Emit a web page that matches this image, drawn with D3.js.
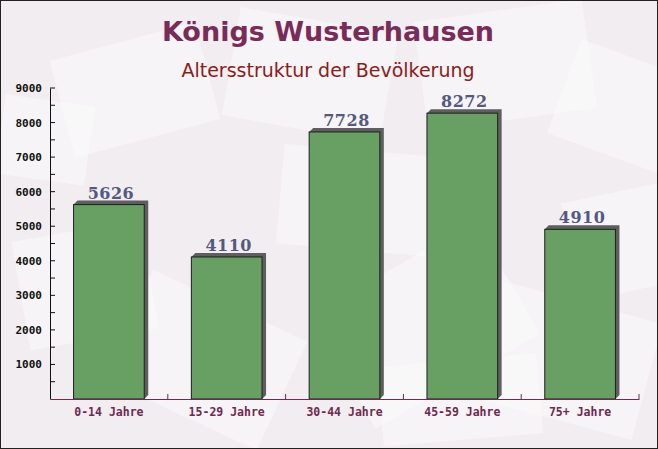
<!DOCTYPE html>
<html><head><meta charset="utf-8">
<script src="https://cdn.jsdelivr.net/npm/d3@7"></script>
<style>body{margin:0;padding:0;}svg{display:block;}</style>
</head><body>
<svg id="c" width="658" height="449"></svg>
<script>
const categories = ["0-14 Jahre","15-29 Jahre","30-44 Jahre","45-59 Jahre","75+ Jahre"];
const values = [5626, 4110, 7728, 8272, 4910];
const yTicks = [1000,2000,3000,4000,5000,6000,7000,8000,9000];
const title = "Königs Wusterhausen";
const subtitle = "Altersstruktur der Bevölkerung";

const svg = d3.select("#c");
const W = 658, H = 449;
const m = {left:50, right:19, top:88, bottom:50};

svg.append("rect").attr("width",W).attr("height",H).attr("fill","#f1edf0");
// decorative background envelopes
const deco = [
  [60,40,150,100,-15],[230,20,160,110,10],[420,10,170,110,-8],[560,60,140,100,20],
  [20,230,130,110,-10],[120,300,170,120,25],[330,260,190,130,-30],[480,300,170,120,15],
  [570,190,120,100,-12],[280,150,150,100,5],[0,100,90,80,8],[380,360,160,80,-5]
];
const dg = svg.append("g");
deco.forEach(d=>{
  dg.append("rect").attr("x",d[0]).attr("y",d[1]).attr("width",d[2]).attr("height",d[3])
    .attr("transform",`rotate(${d[4]},${d[0]+d[2]/2},${d[1]+d[3]/2})`)
    .attr("fill","#ffffff").attr("opacity",0.4);
});

const x = d3.scaleBand().domain(categories).range([m.left, W-m.right]).paddingInner(0.4).paddingOuter(0.2);
const y = d3.scaleLinear().domain([0,9000]).range([H-m.bottom, m.top]);

// title
svg.append("text").attr("x",328).attr("y",41).attr("text-anchor","middle")
  .attr("font-family","DejaVu Sans, Verdana, sans-serif").attr("font-weight","bold")
  .attr("font-size",27).attr("fill","#7a2c59").text(title);
svg.append("text").attr("x",328).attr("y",77).attr("text-anchor","middle")
  .attr("font-family","DejaVu Sans, Verdana, sans-serif")
  .attr("font-size",19).attr("fill","#8b1c1c").text(subtitle);

// bars
const off = 4;
const bg = svg.append("g");
categories.forEach((c,i)=>{
  const bx = x(c), bw = x.bandwidth(), by = y(values[i]), bh = y(0)-y(values[i]);
  bg.append("path")
    .attr("d",`M${bx},${by} L${bx+off},${by-off} L${bx+bw+off},${by-off} L${bx+bw+off},${y(0)-off} L${bx+bw},${y(0)} Z`)
    .attr("fill","#5e5e5e");
  bg.append("rect").attr("x",bx).attr("y",by).attr("width",bw).attr("height",bh)
    .attr("fill","#68a063").attr("stroke","#1e1e1e").attr("stroke-width",1);
  bg.append("text").attr("x",bx+bw/2+2).attr("y",by-6).attr("text-anchor","middle")
    .attr("font-family","DejaVu Serif, serif").attr("font-weight","bold")
    .attr("font-size",16).attr("fill","#55587f").attr("letter-spacing",0.5).text(values[i]);
});

// y axis
const ya = d3.axisLeft(y).tickValues(yTicks).tickSize(0).tickPadding(8).tickFormat(d3.format("d"));
const yg = svg.append("g").attr("transform",`translate(${m.left},0)`).call(ya);
yg.select(".domain").attr("stroke","#111");
yg.selectAll("text").attr("font-family","DejaVu Sans Mono, monospace").attr("font-weight","bold")
  .attr("font-size",11).attr("fill","#111");
const minor = d3.range(500, 9001, 500);
yg.selectAll("line.mt").data(minor).enter().append("line").attr("class","mt")
  .attr("x1",0).attr("x2",5).attr("y1",d=>y(d)).attr("y2",d=>y(d)).attr("stroke","#111");

// x axis
const xa = d3.axisBottom(x).tickSize(0).tickPadding(9);
const xg = svg.append("g").attr("transform",`translate(0,${y(0)})`).call(xa);
xg.select(".domain").attr("stroke","#6e2a50");
xg.selectAll("text").attr("font-family","DejaVu Sans Mono, monospace")
  .attr("font-size",11.5).attr("font-weight","bold").attr("fill","#6e2a50");
const bounds = d3.range(1, categories.length+1).map(i=>x.range()[0]+i*x.step());
xg.selectAll("line.bt").data(bounds).enter().append("line").attr("class","bt")
  .attr("x1",d=>d).attr("x2",d=>d).attr("y1",0).attr("y2",-5).attr("stroke","#6e2a50");

svg.append("rect").attr("x",0.5).attr("y",0.5).attr("width",W-1).attr("height",H-1)
  .attr("fill","none").attr("stroke","#222");
</script>
</body></html>
